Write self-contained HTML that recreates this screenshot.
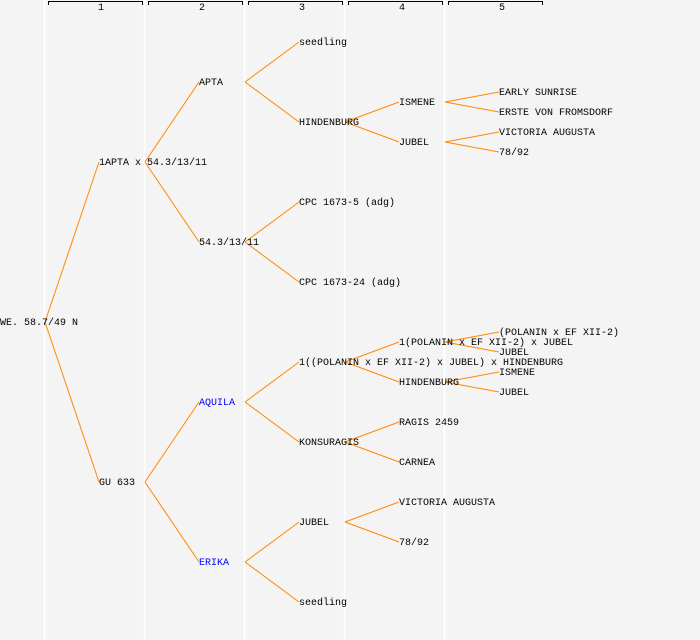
<!DOCTYPE html>
<html><head><meta charset="utf-8"><style>
html,body{margin:0;padding:0;background:#f4f4f4;}
svg{display:block;}
text{font-family:"Liberation Mono","DejaVu Sans Mono",monospace;font-size:10px;fill:#000;}
.b{fill:#0000ff;}
line.c{stroke:#ff8800;stroke-width:1;}
</style></head><body>
<svg width="700" height="640" xmlns="http://www.w3.org/2000/svg">
<rect width="700" height="640" fill="#f4f4f4"/>
<g stroke="#ffffff" stroke-width="1.5">
<line x1="44.5" y1="0" x2="44.5" y2="640"/><line x1="144.5" y1="0" x2="144.5" y2="640"/>
<line x1="244.5" y1="0" x2="244.5" y2="640"/><line x1="344.5" y1="0" x2="344.5" y2="640"/>
<line x1="444.5" y1="0" x2="444.5" y2="640"/>
</g>
<g stroke="#000" fill="none" stroke-width="1">
<path d="M48.5,5V1.5H142.5V5"/><path d="M148.5,5V1.5H242.5V5"/><path d="M248.5,5V1.5H342.5V5"/><path d="M348.5,5V1.5H442.5V5"/><path d="M448.5,5V1.5H542.5V5"/>
</g>
<g style="font-size:9px" text-anchor="middle">
<text x="101" y="10">1</text><text x="202" y="10">2</text><text x="302" y="10">3</text><text x="402" y="10">4</text><text x="502" y="10">5</text>
</g>
<g>
<line class="c" x1="45" y1="322" x2="99" y2="162"/><line class="c" x1="45" y1="322" x2="99" y2="482"/>
<line class="c" x1="145" y1="162" x2="199" y2="82"/><line class="c" x1="145" y1="162" x2="199" y2="242"/>
<line class="c" x1="145" y1="482" x2="199" y2="402"/><line class="c" x1="145" y1="482" x2="199" y2="562"/>
<line class="c" x1="245" y1="82" x2="299" y2="42"/><line class="c" x1="245" y1="82" x2="299" y2="122"/>
<line class="c" x1="245" y1="242" x2="299" y2="202"/><line class="c" x1="245" y1="242" x2="299" y2="282"/>
<line class="c" x1="245" y1="402" x2="299" y2="362"/><line class="c" x1="245" y1="402" x2="299" y2="442"/>
<line class="c" x1="245" y1="562" x2="299" y2="522"/><line class="c" x1="245" y1="562" x2="299" y2="602"/>
<line class="c" x1="345" y1="122" x2="399" y2="102"/><line class="c" x1="345" y1="122" x2="399" y2="142"/>
<line class="c" x1="345" y1="362" x2="399" y2="342"/><line class="c" x1="345" y1="362" x2="399" y2="382"/>
<line class="c" x1="345" y1="442" x2="399" y2="422"/><line class="c" x1="345" y1="442" x2="399" y2="462"/>
<line class="c" x1="345" y1="522" x2="399" y2="502"/><line class="c" x1="345" y1="522" x2="399" y2="542"/>
<line class="c" x1="445" y1="102" x2="499" y2="92"/><line class="c" x1="445" y1="102" x2="499" y2="112"/>
<line class="c" x1="445" y1="142" x2="499" y2="132"/><line class="c" x1="445" y1="142" x2="499" y2="152"/>
<line class="c" x1="445" y1="342" x2="499" y2="332"/><line class="c" x1="445" y1="342" x2="499" y2="352"/>
<line class="c" x1="445" y1="382" x2="499" y2="372"/><line class="c" x1="445" y1="382" x2="499" y2="392"/>
</g>
<g>
<text x="0" y="325">WE. 58.7/49 N</text>
<text x="99" y="165">1APTA x 54.3/13/11</text><text x="99" y="485">GU 633</text>
<text x="199" y="85">APTA</text><text x="199" y="245">54.3/13/11</text>
<text x="199" y="405" class="b">AQUILA</text><text x="199" y="565" class="b">ERIKA</text>
<text x="299" y="45">seedling</text><text x="299" y="125">HINDENBURG</text>
<text x="299" y="205">CPC 1673-5 (adg)</text><text x="299" y="285">CPC 1673-24 (adg)</text>
<text x="299" y="365">1((POLANIN x EF XII-2) x JUBEL) x HINDENBURG</text>
<text x="299" y="445">KONSURAGIS</text><text x="299" y="525">JUBEL</text><text x="299" y="605">seedling</text>
<text x="399" y="105">ISMENE</text><text x="399" y="145">JUBEL</text>
<text x="399" y="345">1(POLANIN x EF XII-2) x JUBEL</text><text x="399" y="385">HINDENBURG</text>
<text x="399" y="425">RAGIS 2459</text><text x="399" y="465">CARNEA</text>
<text x="399" y="505">VICTORIA AUGUSTA</text><text x="399" y="545">78/92</text>
<text x="499" y="95">EARLY SUNRISE</text><text x="499" y="115">ERSTE VON FROMSDORF</text>
<text x="499" y="135">VICTORIA AUGUSTA</text><text x="499" y="155">78/92</text>
<text x="499" y="335">(POLANIN x EF XII-2)</text><text x="499" y="355">JUBEL</text>
<text x="499" y="375">ISMENE</text><text x="499" y="395">JUBEL</text>
</g>
</svg>
</body></html>
